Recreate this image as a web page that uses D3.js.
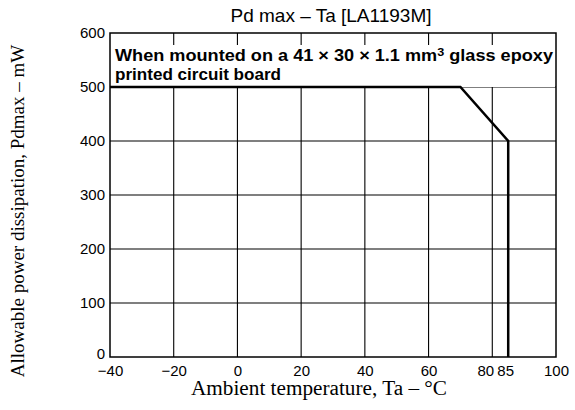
<!DOCTYPE html>
<html><head><meta charset="utf-8">
<script src="https://cdn.jsdelivr.net/npm/d3@7"></script>
<style>body{margin:0;background:#fff}svg{display:block}</style>
</head><body>
<svg id="c" width="575" height="410"></svg>
<script>
const xTicks = [-40, -20, 0, 20, 40, 60, 80, 85, 100];
const yTicks = [0, 100, 200, 300, 400, 500, 600];
const xGrid = [-20, 0, 20, 40, 60, 80];
const yGrid = [100, 200, 300, 400, 500];
const curveTa = [-40, 70, 85, 85];
const curvePd = [500, 500, 400, 0];
const title = "Pd max \u2013 Ta [LA1193M]";
const xTitle = "Ambient temperature, Ta \u2013 \u00b0C";
const yTitle = "Allowable power dissipation, Pdmax \u2013 mW";
const note1a = "When mounted on a 41 \u00d7 30 \u00d7 1.1 mm", note1sup = "3", note1b = " glass epoxy";
const note2 = "printed circuit board";

const svg = d3.select("#c");
const x = d3.scaleLinear().domain([-40, 100]).range([110, 556]);
const y = d3.scaleLinear().domain([0, 600]).range([357, 33]);
const sans = "'Liberation Sans', Arial, sans-serif";
const serif = "'Liberation Serif', 'Times New Roman', serif";

// grid
svg.append("g").selectAll("line").data(xGrid).join("line")
  .attr("x1", d => x(d)).attr("x2", d => x(d)).attr("y1", y(0)).attr("y2", y(600))
  .attr("stroke", "#000").attr("stroke-width", 1.1);
svg.append("g").selectAll("line").data(yGrid).join("line")
  .attr("x1", x(-40)).attr("x2", x(100)).attr("y1", d => y(d)).attr("y2", d => y(d))
  .attr("stroke", "#000").attr("stroke-width", 1.1);

// note box
svg.append("rect").attr("x", x(-40) + 1).attr("y", y(600) + 12)
  .attr("width", x(100) - x(-40) - 2).attr("height", y(500) - y(600) - 12).attr("fill", "#fff");
const t1 = svg.append("text").attr("x", x(-40) + 5).attr("y", 61)
  .attr("font-family", sans).attr("font-weight", "bold").attr("font-size", 16.5).attr("fill", "#000")
  .attr("textLength", 438).attr("lengthAdjust", "spacingAndGlyphs");
t1.append("tspan").text(note1a);
t1.append("tspan").attr("font-size", 11.5).attr("dy", -5).text(note1sup);
t1.append("tspan").attr("dy", 5).text(note1b);
svg.append("text").attr("x", x(-40) + 5).attr("y", 80)
  .attr("font-family", sans).attr("font-weight", "bold").attr("font-size", 16.5).attr("fill", "#000")
  .attr("textLength", 166).attr("lengthAdjust", "spacingAndGlyphs").text(note2);

// frame
svg.append("rect").attr("x", x(-40)).attr("y", y(600))
  .attr("width", x(100) - x(-40)).attr("height", y(0) - y(600))
  .attr("fill", "none").attr("stroke", "#000").attr("stroke-width", 1.5);

// curve
const pts = curveTa.map((t, i) => [t, curvePd[i]]);
svg.append("path").datum(pts)
  .attr("d", d3.line().x(d => x(d[0])).y(d => y(d[1])))
  .attr("fill", "none").attr("stroke", "#000").attr("stroke-width", 2.5);

// axes
const yAxis = svg.append("g").attr("transform", `translate(${x(-40)},0)`)
  .call(d3.axisLeft(y).tickValues(yTicks).tickSize(0).tickPadding(5));
yAxis.select(".domain").remove();
yAxis.selectAll("text").attr("font-family", sans).attr("font-size", 15).attr("fill", "#000")
  .attr("dy", d => d === 0 ? "0.1em" : "0.32em");

const fmt = d => (d < 0 ? "\u2212" + Math.abs(d) : String(d));
const xAxis = svg.append("g").attr("transform", `translate(0,${y(0)})`)
  .call(d3.axisBottom(x).tickValues(xTicks).tickFormat(fmt).tickSize(0).tickPadding(8));
xAxis.select(".domain").remove();
xAxis.selectAll("text").attr("font-family", sans).attr("font-size", 15).attr("fill", "#000")
  .attr("dx", d => d === 80 ? -7 : d === 85 ? -3 : 0);

// titles
svg.append("text").attr("x", 331).attr("y", 22).attr("text-anchor", "middle")
  .attr("font-family", sans).attr("font-size", 19).attr("fill", "#000").text(title);
svg.append("text").attr("x", 319).attr("y", 395).attr("text-anchor", "middle")
  .attr("font-family", serif).attr("font-size", 20).attr("fill", "#000")
  .attr("textLength", 256).attr("lengthAdjust", "spacingAndGlyphs").text(xTitle);
svg.append("text").attr("transform", "translate(24,211) rotate(-90)").attr("text-anchor", "middle")
  .attr("font-family", serif).attr("font-size", 19).attr("fill", "#000").text(yTitle);
</script>
</body></html>
